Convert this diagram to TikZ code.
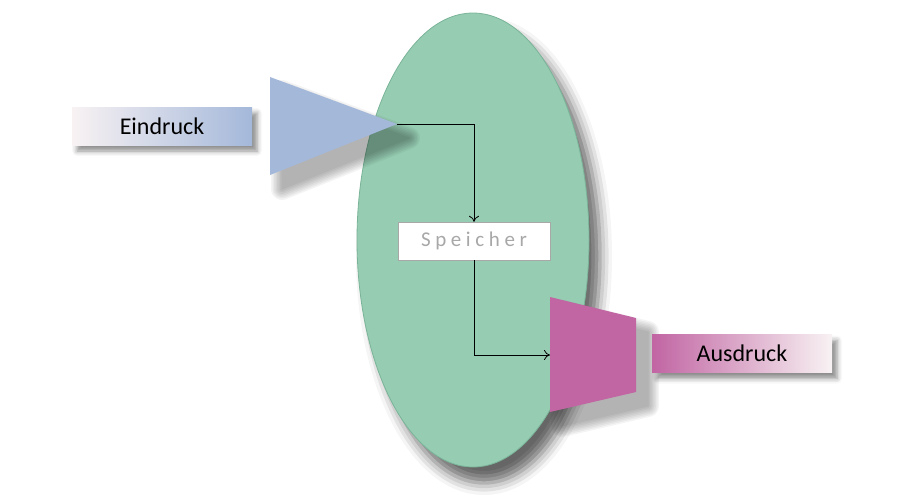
\documentclass[tikz,border=0pt]{standalone}
\usepackage{fontspec}
\setmainfont{Carlito}
\usetikzlibrary{arrows.meta}
\usetikzlibrary{shapes.geometric}
\usetikzlibrary{shadows.blur}
\definecolor{mygreen}{RGB}{150,204,178}
\definecolor{mygreenborder}{RGB}{122,180,152}
\definecolor{myblue}{RGB}{164,184,218}
\definecolor{mymagenta}{RGB}{193,101,163}
\definecolor{mywhite}{RGB}{248,242,243}
\definecolor{mygray}{RGB}{168,168,168}
\newcommand{\widthlabel}{180pt}
\newcommand{\heightlabel}{38pt}
% soft shadow under a plain path, shifted down right
\newcommand{\pathshadow}[1]{%
  \foreach \w in {22,19,...,1} {
    \begin{scope}[shift={(12,14)}, transparency group, opacity=0.045]
      \filldraw[black, line width=\w pt, line join=round] #1;
    \end{scope}
  }}
\tikzset{
    soft shadow/.style={blur shadow={shadow xshift=5pt, shadow yshift=-6pt, shadow blur radius=5pt, shadow opacity=45}},
    big shadow/.style={blur shadow={shadow xshift=11pt, shadow yshift=-16pt, shadow blur radius=12pt, shadow opacity=60}},
    labelbox/.style={soft shadow, minimum width=\widthlabel, minimum height=\heightlabel, inner sep=0pt, font=\fontsize{24}{28}\selectfont},
    memory/.style={ellipse, draw=mygreenborder, line width=0.8pt, fill=mygreen, big shadow, minimum width=232pt, minimum height=454pt, inner sep=0pt},
    store/.style={draw=mygray, fill=white, minimum width=152pt, minimum height=\heightlabel, inner sep=0pt, text=mygray,
        font=\fontsize{21}{25}\selectfont\addfontfeature{LetterSpace=22}},
    link/.style={-{To[length=6pt, width=10pt]}, line width=0.8pt},
}
\begin{document}
\begin{tikzpicture}[x=1pt, y=-1pt]
    \useasboundingbox (0,0) rectangle (901,496);

    % memory
    \node[memory] (mem) at (473,240) {};

    % input side
    \coordinate (in) at (397,124);
    \pathshadow{(270,77) -- (397,124) -- (270,175) -- cycle}
    \fill[myblue] (270,77) -- (in) -- (270,175) -- cycle;
    \node[labelbox, left color=mywhite, right color=myblue] (eindruck) at (162,126) {Eindruck};

    % output side
    \coordinate (out) at (550,355);
    \pathshadow{(550,297) -- (636,318) -- (636,392) -- (550,412) -- cycle}
    \fill[mymagenta] (550,297) -- (636,318) -- (636,392) -- (550,412) -- cycle;
    \node[labelbox, left color=mymagenta, right color=mywhite] (ausdruck) at (742,353.5) {Ausdruck};

    \node[store] (speicher) at (474,241) {Speicher};

    \draw[link] (in) -| (speicher.north);
    \draw[link] (speicher.south) |- (out);
\end{tikzpicture}
\end{document}
